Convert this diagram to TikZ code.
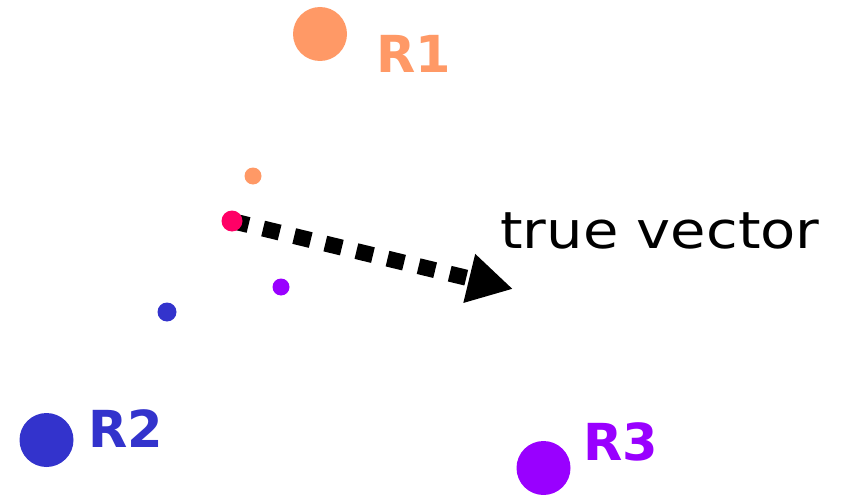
\documentclass[tikz,border=0pt]{standalone}
\usepackage{fontspec}
\setmainfont{DejaVu Sans}
\usetikzlibrary{arrows.meta}

\definecolor{rone}{HTML}{FF9966}
\definecolor{rtwo}{HTML}{3333CC}
\definecolor{rthree}{HTML}{9900FF}
\definecolor{truept}{HTML}{FF0066}

\tikzset{
  bigdot/.style={circle, inner sep=0pt, minimum size=54pt},
  smalldot/.style={circle, inner sep=0pt, minimum size=17pt},
  rlabel/.style={font=\fontsize{51}{51}\selectfont\bfseries, inner sep=0pt},
  vecarrow/.style={line width=16pt, dash pattern=on 17pt off 15pt,
    -{Triangle[length=45pt, width=47pt]}}
}

\begin{document}
\begin{tikzpicture}[x=1pt, y=-1pt]
  \useasboundingbox (0,0) rectangle (844,495);

  % receivers
  \node[bigdot, fill=rone]   (r1) at (320,34)  {};
  \node[bigdot, fill=rtwo]   (r2) at (46.5,440) {};
  \node[bigdot, fill=rthree] (r3) at (543.5,468) {};

  \node[rlabel, text=rone]   (l1) at (414,54)  {R1};
  \node[rlabel, text=rtwo]   (l2) at (126,429) {R2};
  \node[rlabel, text=rthree] (l3) at (621,442) {R3};

  % estimates near the source
  \node[smalldot, fill=rone]   (e1) at (253,176) {};
  \node[smalldot, fill=rthree] (e3) at (281,287) {};
  \node[smalldot, minimum size=19pt, fill=rtwo] (e2) at (167,312) {};

  % true vector from the source point
  \coordinate (src) at (232,221);
  \coordinate (tip) at (513,289);
  \draw[vecarrow] (src) -- (tip);
  \node[smalldot, minimum size=21pt, fill=truept] (s) at (src) {};

  \node[anchor=base west, inner sep=0pt, xscale=1.13,
        font=\fontsize{51}{51}\selectfont] (tv) at (500,248) {true vector};
\end{tikzpicture}
\end{document}
